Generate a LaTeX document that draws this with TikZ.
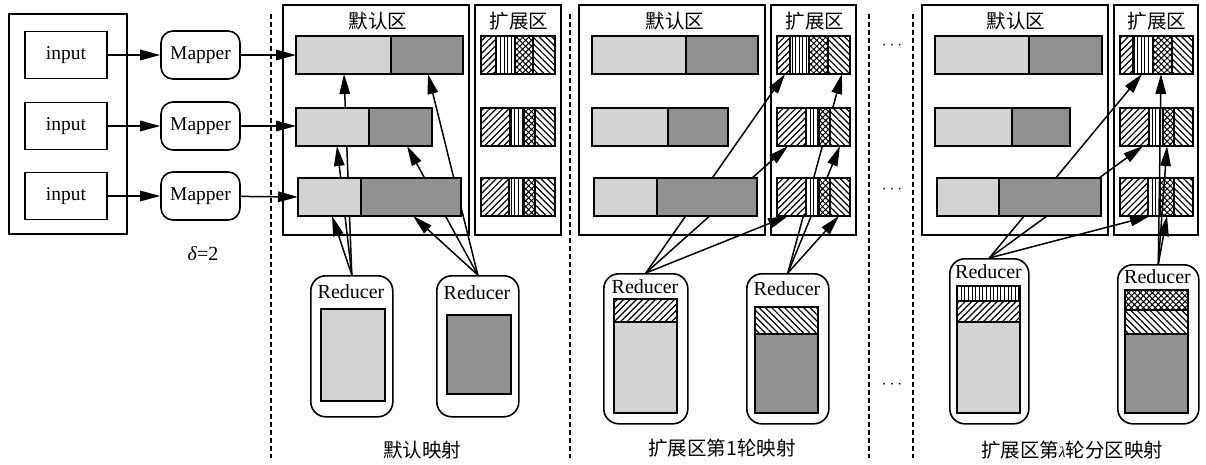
\documentclass[tikz,border=0pt]{standalone}
\usepackage{fontspec}
\setmainfont{Liberation Serif}
\newfontfamily\cjk{Noto Sans CJK SC}
\usetikzlibrary{arrows.meta,patterns.meta}
\definecolor{lg}{RGB}{211,211,211}
\definecolor{dg}{RGB}{145,145,145}
\tikzset{
  frame/.style={draw,line width=1.6pt},
  barline/.style={draw,line width=1.9pt},
  sepline/.style={draw,line width=1.2pt},
  arr/.style={line width=1.5pt,-{Triangle[length=20pt,width=10.5pt]}},
  txt/.style={font=\fontsize{20}{22}\selectfont, inner sep=0pt},
  ctxt/.style={font=\cjk\fontsize{19.5}{22}\selectfont, inner sep=0pt},
  dotstxt/.style={font=\fontsize{16}{16}\selectfont, inner sep=0pt},
  inbox/.style={frame, minimum width=82pt, minimum height=47pt, inner sep=0pt, font=\fontsize{19.5}{22}\selectfont},
  mapbox/.style={frame, rounded corners=12pt, minimum width=79pt, minimum height=48pt, inner sep=0pt, font=\fontsize{19.5}{22}\selectfont},
  redbox/.style={frame, rounded corners=15pt, inner sep=0pt, anchor=north west},
  dsh/.style={line width=1.6pt, dash pattern=on 5pt off 3pt},
  pne/.style={pattern={Lines[angle=45,distance=4.5pt,line width=1.2pt]}},
  pnw/.style={pattern={Lines[angle=-45,distance=4.5pt,line width=1.2pt]}},
  pvl/.style={pattern={Lines[angle=90,distance=3.6pt,line width=1pt]}},
  pcx/.style={pattern={Hatch[angle=45,distance=4.2pt,line width=1pt]}},
}
% default-area bar: x1, split, x2, top y
\newcommand\mydbar[4]{%
  \fill[lg] (#1,#4) rectangle (#2,#4+38);
  \fill[dg] (#2,#4) rectangle (#3,#4+38);
  \draw[sepline] (#2,#4) -- (#2,#4+38);
  \draw[barline] (#1,#4) rectangle (#3,#4+38);}
% extension-area bar: x1, s1, s2, s3, x2, top y
\newcommand\myextbar[6]{%
  \fill[white] (#1,#6) rectangle (#5,#6+38);
  \path[pne] (#1,#6) rectangle (#2,#6+38);
  \path[pvl] (#2,#6) rectangle (#3,#6+38);
  \path[pcx] (#3,#6) rectangle (#4,#6+38);
  \path[pnw] (#4,#6) rectangle (#5,#6+38);
  \draw[sepline] (#2,#6) -- (#2,#6+38) (#3,#6) -- (#3,#6+38) (#4,#6) -- (#4,#6+38);
  \draw[barline] (#1,#6) rectangle (#5,#6+38);}
\begin{document}
\begin{tikzpicture}[x=1pt,y=-1pt]
\useasboundingbox[fill=white] (0,0) rectangle (1206,465);

% ---------- inputs and mappers ----------
\draw[frame] (9,14) rectangle (127,234);
\node[inbox] (i1) at (66,55) {input};
\node[inbox] (i2) at (66,126) {input};
\node[inbox] (i3) at (66,196) {input};
\node[mapbox] (m1) at (200.5,55) {Mapper};
\node[mapbox] (m2) at (200.5,126) {Mapper};
\node[mapbox] (m3) at (200.5,196) {Mapper};
\draw[arr] (i1) -- (m1);
\draw[arr] (i2) -- (m2);
\draw[arr] (i3) -- (m3);
\node[txt] (delta) at (203,254) {\itshape δ\upshape=2};

% ---------- dashed separators ----------
\draw[dsh] (271,14) -- (271,458);
\draw[dsh] (570,14) -- (570,458);
\draw[dsh] (869,14) -- (869,458);
\draw[dsh] (913,14) -- (913,458);
\node[dotstxt] (dots1) at (892,46) {$\cdots$};
\node[dotstxt] (dots2) at (892,190) {$\cdots$};
\node[dotstxt] (dots3) at (892,385) {$\cdots$};

% ---------- panel frames and titles ----------
\draw[frame] (283,5) rectangle (469,235);
\draw[frame] (475,5) rectangle (561,235);
\draw[frame] (579,5) rectangle (765,235);
\draw[frame] (771,5) rectangle (856,235);
\draw[frame] (922,5) rectangle (1108,235);
\draw[frame] (1114,5) rectangle (1198,235);
\node[ctxt] (t1a) at (378,21) {默认区};
\node[ctxt] (t1b) at (519,21) {扩展区};
\node[ctxt] (t2a) at (675,21) {默认区};
\node[ctxt] (t2b) at (815,21) {扩展区};
\node[ctxt] (t3a) at (1016,21) {默认区};
\node[ctxt] (t3b) at (1157,21) {扩展区};

% ---------- reducers (frames) ----------
\node[redbox, minimum width=82pt, minimum height=141pt] (p1r1) at (310,275) {};
\node[redbox, minimum width=82pt, minimum height=141pt] (p1r2) at (436,275) {};
\node[redbox, minimum width=84pt, minimum height=150pt] (p2r1) at (603,273) {};
\node[redbox, minimum width=82pt, minimum height=150pt] (p2r2) at (746,273) {};
\node[redbox, minimum width=79pt, minimum height=165pt] (p3r1) at (949,258) {};
\node[redbox, minimum width=81pt, minimum height=159pt] (p3r2) at (1117,264) {};

% ---------- arrow targets ----------
\coordinate (m1t) at (296,55);
\coordinate (m2t) at (296,126);
\coordinate (m3t) at (298,197);
\coordinate (a11) at (344,74);
\coordinate (a12) at (337,146);
\coordinate (a13) at (332,216);
\coordinate (a21) at (428,74);
\coordinate (a22) at (407,146);
\coordinate (a23) at (413,216);
\coordinate (b11) at (785,74);
\coordinate (b12) at (788,146);
\coordinate (b13) at (788,216);
\coordinate (b21) at (842,74);
\coordinate (b22) at (840,146);
\coordinate (b23) at (839,216);
\coordinate (c11) at (1142,74);
\coordinate (c12) at (1143,146);
\coordinate (c13) at (1150,216);
\coordinate (c21) at (1161,74);
\coordinate (c22) at (1167,146);
\coordinate (c23) at (1167,216);

% ---------- connectors (under the bars) ----------
\draw[arr] (m1) -- (m1t);
\draw[arr] (m2) -- (m2t);
\draw[arr] (m3) -- (m3t);
\draw[arr] (p1r1.north) -- (a11);
\draw[arr] (p1r1.north) -- (a12);
\draw[arr] (p1r1.north) -- (a13);
\draw[arr] (p1r2.north) -- (a21);
\draw[arr] (p1r2.north) -- (a22);
\draw[arr] (p1r2.north) -- (a23);
\draw[arr] (p2r1.north) -- (b11);
\draw[arr] (p2r1.north) -- (b12);
\draw[arr] (p2r1.north) -- (b13);
\draw[arr] (p2r2.north) -- (b21);
\draw[arr] (p2r2.north) -- (b22);
\draw[arr] (p2r2.north) -- (b23);
\draw[arr] (p3r1.north) -- (c11);
\draw[arr] (p3r1.north) -- (c12);
\draw[arr] (p3r1.north) -- (c13);

% ---------- bars ----------
\mydbar{296}{391}{463}{36}
\mydbar{296}{369}{432}{108}
\mydbar{298}{361}{461}{178}
\myextbar{481}{496}{515}{533}{555}{36}
\myextbar{481}{510}{524}{535}{555}{108}
\myextbar{481}{509}{524}{535}{555}{178}

\mydbar{592}{686}{758}{36}
\mydbar{592}{668}{728}{108}
\mydbar{594}{657}{757}{178}
\myextbar{777}{790}{809}{828}{850}{36}
\myextbar{777}{806}{819}{830}{850}{108}
\myextbar{777}{806}{819}{830}{850}{178}

\mydbar{935}{1029}{1102}{36}
\mydbar{935}{1012}{1070}{108}
\mydbar{937}{999}{1101}{178}
\myextbar{1120}{1133}{1153}{1172}{1193}{36}
\myextbar{1120}{1149}{1163}{1174}{1193}{108}
\myextbar{1120}{1148}{1160}{1174}{1193}{178}

% connectors of the last reducer drawn over the bars
\draw[arr] (p3r2.north) -- (c21);
\draw[arr] (p3r2.north) -- (c22);
\draw[arr] (p3r2.north) -- (c23);

% ---------- reducer contents ----------
\node[txt] (p1r1l) at (351,292) {Reducer};
\node[txt] (p1r2l) at (477,293) {Reducer};
\node[txt] (p2r1l) at (645,287) {Reducer};
\node[txt] (p2r2l) at (787,289) {Reducer};
\node[txt] (p3r1l) at (988.5,272) {Reducer};
\node[txt] (p3r2l) at (1157.5,277) {Reducer};

\fill[lg] (321,309) rectangle (385,401);
\draw[barline] (321,309) rectangle (385,401);
\fill[dg] (447,315) rectangle (511,394);
\draw[barline] (447,315) rectangle (511,394);

\path[pne] (614,299) rectangle (677,322);
\fill[lg] (614,322) rectangle (677,413);
\draw[sepline] (614,322) -- (677,322);
\draw[barline] (614,299) rectangle (677,413);
\path[pnw] (755,307) rectangle (818,334);
\fill[dg] (755,334) rectangle (818,413);
\draw[sepline] (755,334) -- (818,334);
\draw[barline] (755,307) rectangle (818,413);

\path[pvl] (957,286) rectangle (1020,301);
\path[pne] (957,301) rectangle (1020,322);
\fill[lg] (957,322) rectangle (1020,413);
\draw[sepline] (957,301) -- (1020,301) (957,322) -- (1020,322);
\draw[barline] (957,286) rectangle (1020,413);
\path[pcx] (1125,290) rectangle (1188,310);
\path[pnw] (1125,310) rectangle (1188,334);
\fill[dg] (1125,334) rectangle (1188,413);
\draw[sepline] (1125,310) -- (1188,310) (1125,334) -- (1188,334);
\draw[barline] (1125,290) rectangle (1188,413);

% ---------- captions ----------
\node[ctxt] (cap1) at (422,450) {默认映射};
\node[ctxt] (cap2) at (722,448) {扩展区第1轮映射};
\node[ctxt] (cap3) at (1072,450) {扩展区第{\rmfamily\itshape\fontsize{15}{15}\selectfont λ}轮分区映射};
\end{tikzpicture}
\end{document}
